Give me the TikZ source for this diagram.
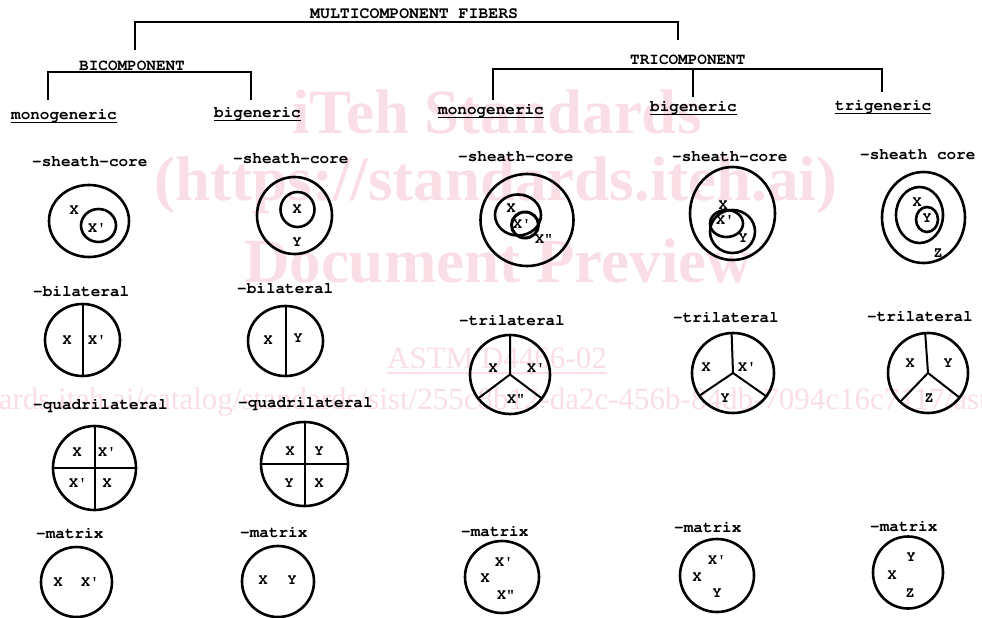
\documentclass[tikz,border=0pt]{standalone}
\usepackage[T1]{fontenc}
\usepackage{textcomp}
\usepackage{fontspec}
\newfontfamily\wmserif{Liberation Serif}
\newcommand\tw{\fontencoding{T1}\fontfamily{pcr}\bfseries}
\usetikzlibrary{shapes.geometric}
\definecolor{wm}{RGB}{249,222,230}
\newcommand\pr{\textquotesingle}
\newcommand\dpr{\char34\relax}
\tikzset{
  lab/.style={font=\tw\fontsize{16}{18}\selectfont, inner sep=0pt, text height=9pt, text depth=0pt, anchor=west},
  hdr/.style={lab, font=\tw\fontsize{16.5}{18}\selectfont},
  let/.style={font=\tw\fontsize{15}{18}\selectfont, inner sep=0pt, text height=9pt, text depth=0pt, anchor=center},
  fib/.style={draw, ellipse, line width=2.6pt, inner sep=0pt, outer sep=0pt},
  tree/.style={line width=1.3pt},
  uline/.style={line width=1.2pt},
  div/.style={line width=2pt},
  wmb/.style={font=\wmserif\bfseries\fontsize{63}{70}\selectfont, text=wm, inner sep=0pt, anchor=base},
  wmr/.style={font=\wmserif\fontsize{31}{36}\selectfont, text=wm, inner sep=0pt, anchor=base west},
}
\begin{document}
\begin{tikzpicture}[x=1pt,y=-1pt]
\useasboundingbox (0,0) rectangle (982,618);
% ---- watermark ----
\node[wmb] (wm1) at (497,133) {iTeh Standards};
\node[wmb] (wm2) at (496,200) {(https://standards.iteh.ai)};
\node[wmb] (wm3) at (498,282) {Document Preview};
\node[wmr] (wm4) at (387,368) {ASTM D4466-02};
\draw[wm, line width=1.2pt] ([yshift=-5pt]wm4.base west) -- ([yshift=-5pt]wm4.base east);
\node[wmr] (wm5) at (-153,409) {https://standards.iteh.ai/catalog/standards/sist/255c8b12-da2c-456b-84db-7094c16c7117/astm-d4466-02};
% ---- tree ----
\node[hdr] (multi) at (310,14) {MULTICOMPONENT FIBERS};
\node[lab] (bicomp) at (79,66) {BICOMPONENT};
\node[lab] (tricomp) at (630,60) {TRICOMPONENT};
\node[lab] (bmono) at (11,115) {monogeneric};
\node[lab] (bbig) at (214,113) {bigeneric};
\node[lab] (tmono) at (438,110) {monogeneric};
\node[lab] (tbig) at (650,107) {bigeneric};
\node[lab] (ttri) at (835,106) {trigeneric};
\foreach \n in {bmono,bbig,tmono,tbig,ttri}
  \draw[uline] ([yshift=-3pt]\n.south west) -- ([yshift=-3pt]\n.south east);
\coordinate (mA) at (135,50); \coordinate (mB) at (135,22);
\coordinate (mC) at (678,22); \coordinate (mD) at (678,40);
\draw[tree] (mA) -- (mB) -- (mC) -- (mD);
\coordinate (bA) at (48,100); \coordinate (bB) at (48,72);
\coordinate (bC) at (251,72); \coordinate (bD) at (251,100);
\draw[tree] (bA) -- (bB) -- (bC) -- (bD);
\coordinate (tA) at (493,100); \coordinate (tB) at (493,69);
\coordinate (tC) at (882,69); \coordinate (tD) at (882,92);
\coordinate (tM) at (693,69); \coordinate (tN) at (693,97);
\draw[tree] (tA) -- (tB) -- (tC) -- (tD);
\draw[tree] (tM) -- (tN);
% ---- row 1: sheath-core ----
\node[lab] (l11) at (32,162) {-sheath-core};
\node[lab] (l12) at (233,159) {-sheath-core};
\node[lab] (l13) at (458,157) {-sheath-core};
\node[lab] (l14) at (672,157) {-sheath-core};
\node[lab] (l15) at (860,155) {-sheath core};
\node[fib, minimum width=80pt, minimum height=72pt] (s1o) at (89,221) {};
\node[fib, minimum width=35pt, minimum height=33pt] (s1i) at (98.5,225.5) {};
\node[let] (s1a) at (74,210) {X};
\node[let] (s1b) at (97,228) {X\pr};
\node[fib, minimum width=75pt, minimum height=77pt] (s2o) at (294.5,215.5) {};
\node[fib, minimum width=34pt, minimum height=35pt] (s2i) at (297.5,209.5) {};
\node[let] (s2a) at (297,209) {X};
\node[let] (s2b) at (297,242) {Y};
\node[fib, minimum width=93pt, minimum height=92pt] (s3o) at (527,220) {};
\node[fib, minimum width=46pt, minimum height=41pt] (s3m) at (518,215) {};
\node[fib, line width=3pt, minimum width=27pt, minimum height=26pt] (s3i) at (525,225) {};
\node[let] (s3a) at (511,208) {X};
\node[let] (s3b) at (522,224) {X\pr};
\node[let] (s3c) at (544,239) {X\dpr};
\node[fib, minimum width=85pt, minimum height=93pt] (s4o) at (732.5,213.5) {};
\node[fib, minimum width=45pt, minimum height=43pt] (s4y) at (732.5,231.5) {};
\node[fib, minimum width=33pt, minimum height=27pt] (s4x) at (726.5,223.5) {};
\node[let] (s4a) at (723,205) {X};
\node[let] (s4b) at (725,220) {X\pr};
\node[let] (s4c) at (743,238) {Y};
\node[fib, minimum width=83pt, minimum height=91pt] (s5o) at (923.5,217.5) {};
\node[fib, minimum width=47pt, minimum height=56pt] (s5m) at (919.5,215) {};
\node[fib, minimum width=22pt, minimum height=25pt] (s5i) at (927,219.5) {};
\node[let] (s5a) at (917,202) {X};
\node[let] (s5b) at (927,218) {Y};
\node[let] (s5c) at (938,253) {Z};
% ---- row 2: bilateral / trilateral ----
\node[lab] (l21) at (33,292) {-bilateral};
\node[lab] (l22) at (237,289) {-bilateral};
\node[lab] (l23) at (459,321) {-trilateral};
\node[lab] (l24) at (673,318) {-trilateral};
\node[lab] (l25) at (867,317) {-trilateral};
\node[fib, minimum width=75pt, minimum height=72pt] (b1) at (82.5,340) {};
\draw[div] (b1.north) -- (b1.south);
\node[let] (b1a) at (67,340) {X};
\node[let] (b1b) at (97,340) {X\pr};
\node[fib, minimum width=75pt, minimum height=70pt] (b2) at (285.5,341) {};
\draw[div] (b2.north) -- (b2.south);
\node[let] (b2a) at (268,340) {X};
\node[let] (b2b) at (298,338) {Y};
\node[fib, minimum width=80pt, minimum height=79pt] (t3) at (510,374.5) {};
\draw[div] (t3.center) -- (t3.90) (t3.center) -- (t3.217) (t3.center) -- (t3.323);
\node[let] (t3a) at (493,368) {X};
\node[let] (t3b) at (536,368) {X\pr};
\node[let] (t3c) at (516,399) {X\dpr};
\node[fib, minimum width=82pt, minimum height=80pt] (t4) at (733,373) {};
\draw[div] (t4.center) -- (t4.92) (t4.center) -- (t4.214) (t4.center) -- (t4.325);
\node[let] (t4a) at (706,367) {X};
\node[let] (t4b) at (747,367) {X\pr};
\node[let] (t4c) at (725,398) {Y};
\node[fib, minimum width=80pt, minimum height=80pt] (t5) at (928,373) {};
\draw[div] (t5.center) -- (t5.94) (t5.center) -- (t5.226) (t5.center) -- (t5.322);
\node[let] (t5a) at (910,363) {X};
\node[let] (t5b) at (948,363) {Y};
\node[let] (t5c) at (929,398) {Z};
% ---- row 3: quadrilateral ----
\node[lab] (l31) at (33,405) {-quadrilateral};
\node[lab] (l32) at (238,403) {-quadrilateral};
\node[fib, minimum width=83pt, minimum height=84pt] (q1) at (94.5,468) {};
\draw[div] (q1.north) -- (q1.south) (q1.west) -- (q1.east);
\node[let] (q1a) at (77,452) {X};
\node[let] (q1b) at (107,452) {X\pr};
\node[let] (q1c) at (78,483) {X\pr};
\node[let] (q1d) at (107,483) {X};
\node[fib, minimum width=87pt, minimum height=84pt] (q2) at (304.5,464) {};
\draw[div] (q2.north) -- (q2.south) (q2.west) -- (q2.east);
\node[let] (q2a) at (290,451) {X};
\node[let] (q2b) at (319,451) {Y};
\node[let] (q2c) at (289,483) {Y};
\node[let] (q2d) at (319,483) {X};
% ---- row 4: matrix ----
\node[lab] (l41) at (36,534) {-matrix};
\node[lab] (l42) at (240,533) {-matrix};
\node[lab] (l43) at (461,532) {-matrix};
\node[lab] (l44) at (674,528) {-matrix};
\node[lab] (l45) at (870,527) {-matrix};
\node[fib, minimum width=71pt, minimum height=70pt] (m1) at (76.5,582) {};
\node[let] (m1a) at (58,582) {X};
\node[let] (m1b) at (90,582) {X\pr};
\node[fib, minimum width=72pt, minimum height=71pt] (m2) at (278,581.5) {};
\node[let] (m2a) at (263,580) {X};
\node[let] (m2b) at (292,580) {Y};
\node[fib, minimum width=74pt, minimum height=72pt] (m3) at (502,577) {};
\node[let] (m3a) at (504,562) {X\pr};
\node[let] (m3b) at (485,578) {X};
\node[let] (m3c) at (506,595) {X\dpr};
\node[fib, minimum width=74pt, minimum height=73pt] (m4) at (717,575.5) {};
\node[let] (m4a) at (717,560) {X\pr};
\node[let] (m4b) at (697,577) {X};
\node[let] (m4c) at (717,593) {Y};
\node[fib, minimum width=70pt, minimum height=72pt] (m5) at (908,572.5) {};
\node[let] (m5a) at (911,557) {Y};
\node[let] (m5b) at (892,575) {X};
\node[let] (m5c) at (910,593) {Z};
\end{tikzpicture}
\end{document}
